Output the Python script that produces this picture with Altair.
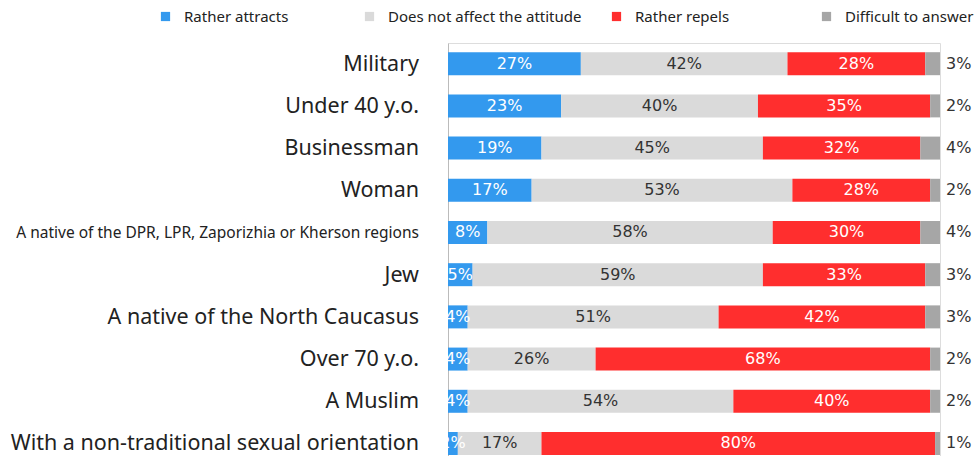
import altair as alt
import pandas as pd

# Survey groups, top to bottom
categories = [
    "Military",
    "Under 40 y.o.",
    "Businessman",
    "Woman",
    "A native of the DPR, LPR, Zaporizhia or Kherson regions",
    "Jew",
    "A native of the North Caucasus",
    "Over 70 y.o.",
    "A Muslim",
    "With a non-traditional sexual orientation",
]

responses = [
    "Rather attracts",
    "Does not affect the attitude",
    "Rather repels",
    "Difficult to answer",
]

attracts = [27, 23, 19, 17, 8, 5, 4, 4, 4, 2]
no_effect = [42, 40, 45, 53, 58, 59, 51, 26, 54, 17]
repels = [28, 35, 32, 28, 30, 33, 42, 68, 40, 80]
difficult = [3, 2, 4, 2, 4, 3, 3, 2, 2, 1]

colors = ["#3399EE", "#DADADA", "#FF2E2E", "#A6A6A6"]
label_colors = ["#FFFFFF", "#333333", "#FFFFFF", "#333333"]
# horizontal offset of each legend entry, relative to the plot's left edge
legend_x = [-290, -86, 161, 371]

rows = []
for i, cat in enumerate(categories):
    start = 0
    for j, (resp, vals) in enumerate(zip(responses, [attracts, no_effect, repels, difficult])):
        v = vals[i]
        rows.append({
            "category": cat,
            "response": resp,
            "value": v,
            "start": start,
            "end": start + v,
            "mid": start + v / 2,
            "label": f"{v}%",
            "label_color": label_colors[j],
            "inside": j < 3,
            "small_name": len(cat) > 45,
        })
        start += v
df = pd.DataFrame(rows)

LABEL_FONT = "Noto Sans"
NUM_FONT = "DejaVu Sans"

y_enc = alt.Y(
    "category:N",
    sort=categories,
    scale=alt.Scale(paddingInner=0.455, paddingOuter=0.121, align=0.9),
    axis=alt.Axis(
        title=None, labels=False, ticks=False, grid=False,
        domain=True, domainColor="#BBBBBB", domainWidth=1,
    ),
)

base = alt.Chart(df).encode(y=y_enc)

# one bar layer per response, each with its own legend entry
bar_layers = []
for resp, col, lx in zip(responses, colors, legend_x):
    bar_layers.append(
        base.transform_filter(alt.datum.response == resp).mark_bar(strokeWidth=0).encode(
            x=alt.X("start:Q", scale=alt.Scale(domain=[0, 100], nice=False, zero=True), axis=None),
            x2="end:Q",
            color=alt.Color(
                "response:N",
                scale=alt.Scale(domain=[resp], range=[col]),
                legend=alt.Legend(
                    title=None,
                    orient="none",
                    legendX=lx,
                    legendY=-34,
                    direction="horizontal",
                    symbolType="square",
                    symbolSize=85,
                    symbolStrokeWidth=0,
                    labelFont=LABEL_FONT,
                    labelFontSize=15,
                    labelColor="#222222",
                    labelOffset=11,
                    labelLimit=0,
                    padding=0,
                ),
            ),
        )
    )

inside_text = base.transform_filter("datum.inside").mark_text(
    font=NUM_FONT, fontSize=16, baseline="middle", align="center"
).encode(
    x=alt.X("mid:Q"),
    text="label:N",
    color=alt.Color("label_color:N", scale=None),
)

outside_text = base.transform_filter("!datum.inside").mark_text(
    font=NUM_FONT, fontSize=16, baseline="middle", align="left", dx=6, color="#333333"
).encode(
    x=alt.X("end:Q"),
    text="label:N",
)

names = base.transform_filter("datum.response == 'Rather attracts'").mark_text(
    font=LABEL_FONT, align="right", baseline="middle", color="#222222", dy=1
).encode(
    x=alt.value(-29),
    text="category:N",
    size=alt.condition("datum.small_name", alt.value(15.5), alt.value(21.5)),
)

chart = alt.layer(*bar_layers, inside_text, outside_text, names).resolve_scale(
    color="independent"
).properties(
    width=492,
    height=413,
    autosize=alt.AutoSizeParams(type="none"),
    padding={"left": 448, "top": 43, "right": 39, "bottom": 0},
).configure_view(stroke=None).configure(background="white")

chart.save("out.html", embed_options={"renderer": "svg", "actions": False})
